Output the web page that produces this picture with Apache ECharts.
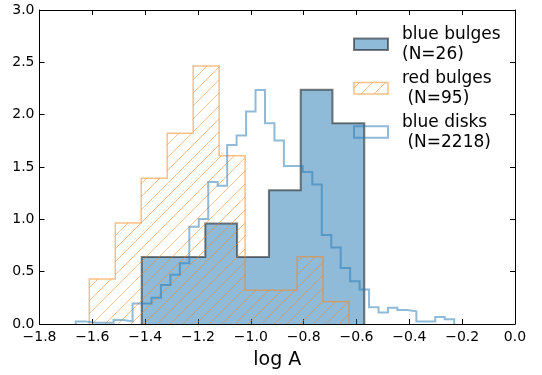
<!DOCTYPE html>
<html>
<head>
<meta charset="utf-8">
<script src="https://cdn.jsdelivr.net/npm/echarts@6/dist/echarts.min.js"></script>
<style>
html,body{margin:0;padding:0;background:#fff;overflow:hidden;}
#chart{width:542px;height:375px;}
</style>
</head>
<body>
<div id="chart"></div>
<script>
// ---- data ----
const xTicks = [-1.8, -1.6, -1.4, -1.2, -1.0, -0.8, -0.6, -0.4, -0.2, 0.0];
const yTicks = [0.0, 0.5, 1.0, 1.5, 2.0, 2.5, 3.0];

const blueBulgeEdges = [-1.4131, -1.2927, -1.1724, -1.0520, -0.9316, -0.8113, -0.6909, -0.5705];
const blueBulgeDensity = [0.639, 0.639, 0.959, 0.639, 1.279, 2.238, 1.918];

const redBulgeEdges = [-1.6115, -1.5132, -1.4149, -1.3166, -1.2183, -1.1199, -1.0216, -0.9233, -0.8250, -0.7267, -0.6284];
const redBulgeDensity = [0.429, 0.965, 1.393, 1.822, 2.465, 1.608, 0.322, 0.322, 0.643, 0.214];

const blueDiskEdges = [-1.6626, -1.6268, -1.5910, -1.5552, -1.5194, -1.4836, -1.4477, -1.4119, -1.3761, -1.3403,
  -1.3045, -1.2687, -1.2329, -1.1971, -1.1613, -1.1255, -1.0896, -1.0538, -1.0180, -0.9822,
  -0.9464, -0.9106, -0.8748, -0.8390, -0.8032, -0.7674, -0.7315, -0.6957, -0.6599, -0.6241,
  -0.5883, -0.5525, -0.5167, -0.4809, -0.4451, -0.4093, -0.3734, -0.3376, -0.3018, -0.2660, -0.2302];
const blueDiskDensity = [0.025, 0.0126, 0.0126, 0.0126, 0.038, 0.025, 0.197, 0.197, 0.251, 0.372,
  0.47, 0.58, 0.93, 1.003, 1.357, 1.32, 1.71, 1.80, 2.03, 2.235,
  1.917, 1.752, 1.509, 1.509, 1.452, 1.332, 0.851, 0.732, 0.536, 0.409,
  0.33, 0.16, 0.109, 0.156, 0.134, 0.121, 0.024, 0.024, 0.068, 0.046];

const legendLabels = ['blue bulges\n(N=26)', 'red bulges\n (N=95)', 'blue disks\n (N=2218)'];
const xAxisTitle = 'log A';

// ---- styling ----
const FONT = 'DejaVu Sans';
const BLUE_A = 'rgba(31,119,180,0.5)';
const ORANGE_A = 'rgba(255,127,14,0.5)';
const GRAY_A = 'rgba(0,0,0,0.5)';

function hatchPattern() {
  const s = 13;
  const c = document.createElement('canvas');
  c.width = s; c.height = s;
  const g = c.getContext('2d');
  g.strokeStyle = ORANGE_A;
  g.lineWidth = 1;
  g.beginPath();
  g.moveTo(-2, s + 2); g.lineTo(s + 2, -2);
  g.moveTo(-2, 2); g.lineTo(2, -2);
  g.moveTo(s - 2, s + 2); g.lineTo(s + 2, s - 2);
  g.stroke();
  return { image: c, repeat: 'repeat' };
}
const hatch = hatchPattern();

function stepOutline(edges, vals) {
  const pts = [[edges[0], 0]];
  for (let i = 0; i < vals.length; i++) {
    pts.push([edges[i], vals[i]]);
    pts.push([edges[i + 1], vals[i]]);
  }
  pts.push([edges[edges.length - 1], 0]);
  return pts;
}

function fmtX(v) {
  const r = Math.round(v * 10) / 10;
  return (r < 0 ? '\u2212' : '') + Math.abs(r).toFixed(1);
}

const chart = echarts.init(document.getElementById('chart'), null, { renderer: 'canvas', width: 542, height: 375 });

const axisCommon = {
  type: 'value',
  splitLine: { show: false },
  axisLine: { show: true, onZero: false, lineStyle: { color: '#000', width: 1 } },
  axisTick: { show: true, inside: true, length: 5, lineStyle: { color: '#000', width: 1 } }
};

const option = {
  animation: false,
  backgroundColor: '#fff',
  grid: { left: 39.5, right: 27, top: 10, bottom: 48.5, containLabel: false },
  xAxis: [
    Object.assign({}, axisCommon, {
      position: 'bottom', min: xTicks[0], max: xTicks[xTicks.length - 1], interval: 0.2,
      axisLabel: { show: true, margin: 6, fontSize: 14, color: '#000', fontFamily: FONT,
        formatter: fmtX, showMinLabel: true, showMaxLabel: true },
      name: xAxisTitle, nameLocation: 'middle', nameGap: 27,
      nameTextStyle: { fontSize: 19, color: '#000', fontFamily: FONT }
    }),
    Object.assign({}, axisCommon, {
      position: 'top', min: xTicks[0], max: xTicks[xTicks.length - 1], interval: 0.2,
      axisLabel: { show: false }
    })
  ],
  yAxis: [
    Object.assign({}, axisCommon, {
      position: 'left', min: yTicks[0], max: yTicks[yTicks.length - 1], interval: 0.5,
      axisLabel: { show: true, margin: 5, fontSize: 14, color: '#000', fontFamily: FONT,
        formatter: v => v.toFixed(1), showMinLabel: true, showMaxLabel: true }
    }),
    Object.assign({}, axisCommon, {
      position: 'right', min: yTicks[0], max: yTicks[yTicks.length - 1], interval: 0.5,
      axisLabel: { show: false }
    })
  ],
  series: [
    {
      name: 'blue bulges', type: 'line', xAxisIndex: 0, yAxisIndex: 0,
      data: stepOutline(blueBulgeEdges, blueBulgeDensity),
      showSymbol: false, symbol: 'none', z: 2,
      lineStyle: { color: GRAY_A, width: 2, join: 'miter' },
      areaStyle: { color: BLUE_A, opacity: 1, origin: 'start' }
    },
    {
      name: 'red bulges', type: 'line', xAxisIndex: 0, yAxisIndex: 0,
      data: stepOutline(redBulgeEdges, redBulgeDensity),
      showSymbol: false, symbol: 'none', z: 3,
      lineStyle: { color: ORANGE_A, width: 1.5, join: 'miter' },
      areaStyle: { color: hatch, opacity: 1, origin: 'start' }
    },
    {
      name: 'blue disks', type: 'line', xAxisIndex: 0, yAxisIndex: 0,
      data: stepOutline(blueDiskEdges, blueDiskDensity),
      showSymbol: false, symbol: 'none', z: 4,
      lineStyle: { color: BLUE_A, width: 2, join: 'miter' }
    }
  ],
  graphic: [
    { type: 'rect', shape: { x: 354, y: 38.5, width: 34, height: 11.5 },
      style: { fill: BLUE_A, stroke: GRAY_A, lineWidth: 2 }, z: 100 },
    { type: 'rect', shape: { x: 354, y: 82.5, width: 34, height: 11.5 },
      style: { fill: hatch, stroke: ORANGE_A, lineWidth: 1.5 }, z: 100 },
    { type: 'rect', shape: { x: 354, y: 126.3, width: 34, height: 11.5 },
      style: { fill: 'none', stroke: BLUE_A, lineWidth: 2 }, z: 100 },
    { type: 'text', x: 402, y: 24.5, z: 100,
      style: { text: legendLabels[0], font: '17px "DejaVu Sans"', fill: '#000', lineHeight: 20, verticalAlign: 'top' } },
    { type: 'text', x: 402, y: 68.5, z: 100,
      style: { text: legendLabels[1], font: '17px "DejaVu Sans"', fill: '#000', lineHeight: 20, verticalAlign: 'top' } },
    { type: 'text', x: 402, y: 112.3, z: 100,
      style: { text: legendLabels[2], font: '17px "DejaVu Sans"', fill: '#000', lineHeight: 20, verticalAlign: 'top' } }
  ]
};
chart.setOption(option);
</script>
</body>
</html>
